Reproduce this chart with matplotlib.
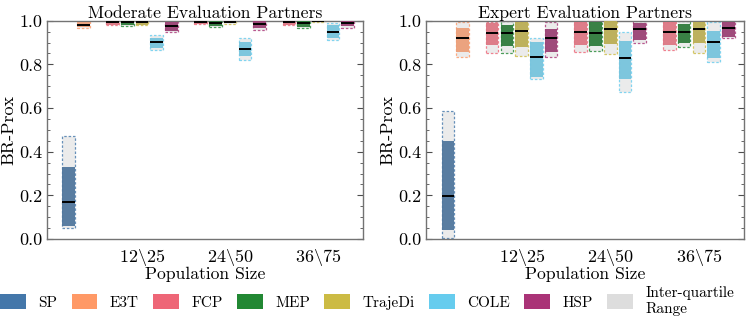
import colorsys
import matplotlib
matplotlib.use("Agg")
import matplotlib.pyplot as plt
from matplotlib.colors import to_rgb
from matplotlib.patches import Rectangle, Patch

plt.rcParams['font.family'] = 'serif'
plt.rcParams['font.serif'] = ['cmr10']
plt.rcParams['mathtext.fontset'] = 'cm'
plt.rcParams['axes.formatter.use_mathtext'] = True
plt.rcParams['axes.unicode_minus'] = False

methods = ["SP", "E3T", "FCP", "MEP", "TrajeDi", "COLE", "HSP"]
colors = ["#4477AA", "#FF9966", "#EE6677", "#228833", "#CCBB44", "#66CCEE", "#AA3377"]
group_labels = [r"$12\backslash25$", r"$24\backslash50$", r"$36\backslash75$"]
titles = ["Moderate Evaluation Partners", "Expert Evaluation Partners"]

# Each entry: (method, group, low, q1, median, q3, high); group 0 = baseline
moderate = [
    ("SP", 0, 0.050, 0.058, 0.168, 0.328, 0.474),
    ("E3T", 0, 0.966, 0.970, 0.981, 0.994, 1.000),
    ("FCP", 1, 0.979, 0.981, 0.995, 0.999, 1.000),
    ("MEP", 1, 0.978, 0.980, 0.993, 0.999, 1.000),
    ("TrajeDi", 1, 0.980, 0.982, 0.996, 1.000, 1.000),
    ("COLE", 1, 0.867, 0.874, 0.904, 0.922, 0.934),
    ("HSP", 1, 0.947, 0.954, 0.974, 0.993, 0.999),
    ("FCP", 2, 0.983, 0.985, 0.996, 1.000, 1.000),
    ("MEP", 2, 0.972, 0.975, 0.990, 1.000, 1.000),
    ("TrajeDi", 2, 0.986, 0.988, 0.996, 1.000, 1.000),
    ("COLE", 2, 0.822, 0.837, 0.869, 0.904, 0.919),
    ("HSP", 2, 0.957, 0.965, 0.986, 1.000, 1.000),
    ("FCP", 3, 0.980, 0.982, 0.996, 1.000, 1.000),
    ("MEP", 3, 0.965, 0.972, 0.989, 1.000, 1.000),
    ("TrajeDi", 3, 0.993, 0.994, 0.997, 1.000, 1.000),
    ("COLE", 3, 0.913, 0.922, 0.950, 0.980, 0.988),
    ("HSP", 3, 0.968, 0.975, 0.990, 1.000, 1.000),
]
expert = [
    ("SP", 0, 0.005, 0.041, 0.197, 0.450, 0.586),
    ("E3T", 0, 0.835, 0.855, 0.922, 0.965, 0.993),
    ("FCP", 1, 0.853, 0.889, 0.945, 0.988, 0.993),
    ("MEP", 1, 0.851, 0.884, 0.944, 0.980, 0.999),
    ("TrajeDi", 1, 0.839, 0.881, 0.953, 0.993, 0.993),
    ("COLE", 1, 0.732, 0.744, 0.832, 0.901, 0.919),
    ("HSP", 1, 0.835, 0.858, 0.919, 0.962, 0.993),
    ("FCP", 2, 0.856, 0.887, 0.947, 0.993, 0.993),
    ("MEP", 2, 0.862, 0.884, 0.942, 0.993, 0.999),
    ("TrajeDi", 2, 0.847, 0.894, 0.962, 1.000, 1.000),
    ("COLE", 2, 0.672, 0.734, 0.829, 0.908, 0.950),
    ("HSP", 2, 0.899, 0.911, 0.961, 0.988, 0.999),
    ("FCP", 3, 0.866, 0.889, 0.948, 0.993, 0.993),
    ("MEP", 3, 0.878, 0.899, 0.950, 0.983, 0.999),
    ("TrajeDi", 3, 0.850, 0.896, 0.962, 0.993, 0.993),
    ("COLE", 3, 0.809, 0.831, 0.902, 0.954, 0.993),
    ("HSP", 3, 0.919, 0.927, 0.968, 0.993, 0.999),
]

slot = 1.0 / 6.0
bar_w = 0.142


def desaturate(c, prop=0.75):
    h, l, s = colorsys.rgb_to_hls(*to_rgb(c))
    return colorsys.hls_to_rgb(h, l, s * prop)


def xpos(method, group):
    i = methods.index(method)
    if group == 0:
        return (i + 1) * slot
    return group + (i - 4) * slot


W, H = 747, 319
fig = plt.figure(figsize=(W / 100, H / 100), dpi=100)
ax_rects = [
    [47 / W, (H - 239) / H, 316 / W, 218.3 / H],
    [426 / W, (H - 239) / H, 318 / W, 218.3 / H],
]

for k, (data, title) in enumerate(zip([moderate, expert], titles)):
    ax = fig.add_axes(ax_rects[k])
    for (m, g, lo, q1, med, q3, hi) in data:
        c = colors[methods.index(m)]
        cd = desaturate(c)
        x = xpos(m, g)
        ax.add_patch(Rectangle((x - bar_w / 2, lo), bar_w, hi - lo,
                               facecolor="#E6E6E6", edgecolor=c, lw=0.9,
                               ls=(0, (2, 1.5)), alpha=0.8, zorder=2))
        ax.add_patch(Rectangle((x - bar_w / 2, q1), bar_w, q3 - q1,
                               facecolor=cd, edgecolor="none", alpha=0.95, zorder=3))
        ax.plot([x - bar_w / 2, x + bar_w / 2], [med, med], color="black",
                lw=1.4, zorder=4, solid_capstyle="butt")
    ax.set_xlim(-0.08, 3.51)
    ax.set_ylim(0, 1.0)
    ax.set_xticks([1, 2, 3])
    ax.set_xticklabels(group_labels, fontsize=13)
    ax.tick_params(axis="x", length=0, pad=6)
    ax.set_yticks([0, 0.2, 0.4, 0.6, 0.8, 1.0])
    ax.set_yticklabels(["0.0", "0.2", "0.4", "0.6", "0.8", "1.0"], fontsize=13)
    ax.set_yticks([v / 20 for v in range(21)], minor=True)
    ax.tick_params(axis="y", which="both", direction="in", left=True, right=True,
                   color="0.3")
    ax.tick_params(axis="y", which="major", length=4)
    ax.tick_params(axis="y", which="minor", length=2)
    for sp in ax.spines.values():
        sp.set_color("0.45")
        sp.set_linewidth(1.0)
    ax.set_title(title, fontsize=12.7, pad=1)
    ax.set_xlabel("Population Size", fontsize=12.7, labelpad=-1)
    ax.set_ylabel("BR-Prox", fontsize=13, labelpad=2)

handles = [Patch(facecolor=c, edgecolor="none") for c in colors]
handles.append(Patch(facecolor="#DDDDDD", edgecolor="none"))
labels = methods + ["Inter-quartile\nRange"]
fig.legend(handles, labels, loc="lower left", bbox_to_anchor=(0.0, 0.008),
           ncol=8, frameon=False, fontsize=11, handlelength=1.67,
           handleheight=1.15, handletextpad=0.82, columnspacing=0.95,
           borderaxespad=0, borderpad=0)

fig.savefig("out.png", dpi=100)
